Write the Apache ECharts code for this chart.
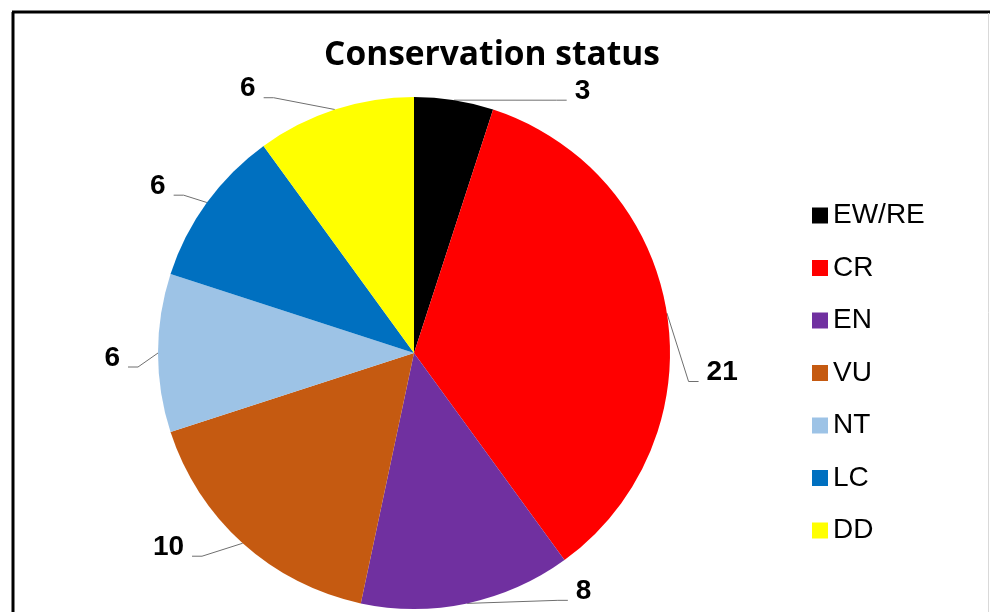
<!DOCTYPE html>
<html>
<head>
<meta charset="utf-8">
<script src="https://cdn.jsdelivr.net/npm/echarts@6/dist/echarts.min.js"></script>
<style>
html,body{margin:0;padding:0;background:#fff;}
#chart{width:990px;height:612px;}
</style>
</head>
<body>
<div id="chart"></div>
<script>
const categories = ['EW/RE', 'CR', 'EN', 'VU', 'NT', 'LC', 'DD'];
const values = [3, 21, 8, 10, 6, 6, 6];
const colors = ['#000000', '#FF0000', '#7030A0', '#C55A11', '#9DC3E6', '#0070C0', '#FFFF00'];
// label-line styling (px): radial length, horizontal length, vertical drop of the elbow
const lineLen = [4, 22, 3, 4, 4, 4, 4];
const lineLen2 = [112, 10, 100, 48, 26, 30, 70];
const lineDrop = [4, 72, -6, 10, 14, -5, -8];

const chart = echarts.init(document.getElementById('chart'));
const data = categories.map((c, i) => ({
  name: c,
  value: values[i],
  itemStyle: { color: colors[i] },
  labelLine: { length: lineLen[i], length2: lineLen2[i] }
}));

chart.setOption({
  animation: false,
  title: {
    text: 'Conservation status',
    left: 487,
    top: 33,
    textAlign: 'center',
    textStyle: { fontFamily: 'Open Sans', fontWeight: 'bold', fontSize: 33.5, color: '#000' }
  },
  legend: {
    orient: 'vertical',
    left: 807,
    top: 196,
    itemWidth: 16,
    itemHeight: 16,
    itemGap: 23.5,
    icon: 'rect',
    textStyle: { fontFamily: 'Liberation Sans', fontSize: 28, color: '#000', lineHeight: 29 },
    data: categories
  },
  graphic: [
    { type: 'line', shape: { x1: 13, y1: 12, x2: 13, y2: 612 }, style: { stroke: '#000', lineWidth: 3 } },
    { type: 'line', shape: { x1: 12, y1: 12, x2: 990, y2: 12 }, style: { stroke: '#000', lineWidth: 3 } },
    { type: 'line', shape: { x1: 988.5, y1: 13, x2: 988.5, y2: 612 }, style: { stroke: '#d9d9d9', lineWidth: 1 } }
  ],
  series: [{
    type: 'pie',
    center: [414, 353],
    radius: 256,
    startAngle: 90,
    clockwise: true,
    avoidLabelOverlap: false,
    label: {
      show: true,
      position: 'outside',
      formatter: '{v|{c}}\n{s| }',
      color: '#000',
      rich: {
        v: { fontFamily: 'Liberation Sans', fontWeight: 'bold', fontSize: 28, lineHeight: 30, color: '#000' },
        s: { fontSize: 10, lineHeight: 18 }
      },
      padding: [0, 3, 0, 3]
    },
    labelLayout: function (params) {
      const d = lineDrop[params.dataIndex] || 0;
      const out = { dy: d };
      const pts = params.labelLinePoints;
      if (pts && pts.length === 3) {
        const dir = pts[2][0] >= pts[0][0] ? 1 : -1;
        out.labelLinePoints = [
          [pts[0][0], pts[0][1]],
          [pts[2][0] - dir * 10, pts[2][1] + d],
          [pts[2][0], pts[2][1] + d]
        ];
      }
      return out;
    },
    labelLine: { show: true, lineStyle: { color: '#6f6f6f', width: 1 } },
    emphasis: { disabled: true },
    data: data
  }]
});
</script>
</body>
</html>
